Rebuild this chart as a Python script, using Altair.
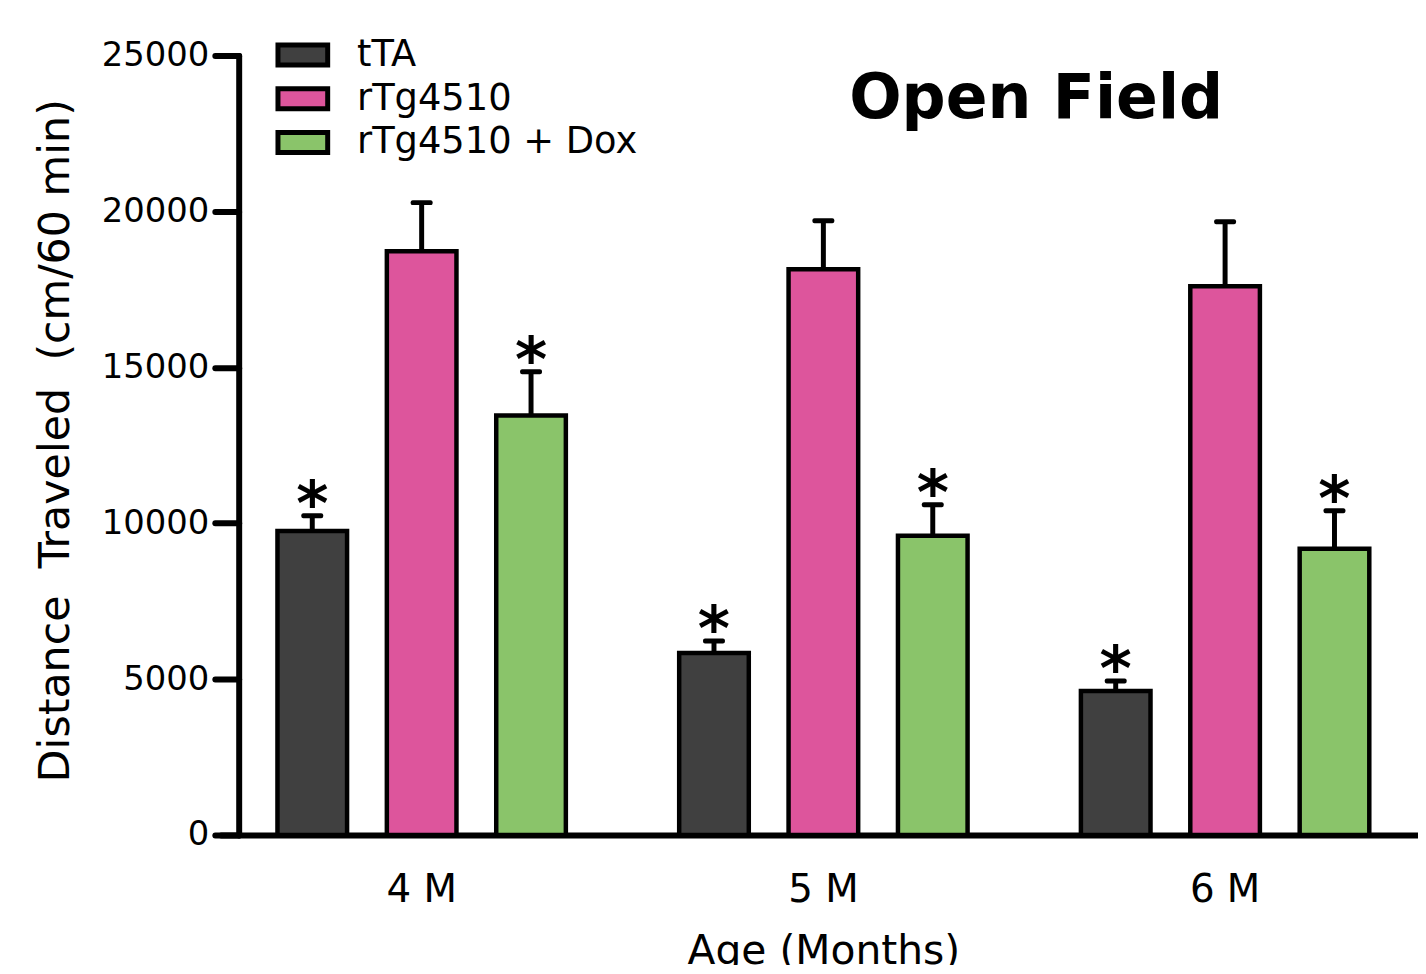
import altair as alt
import pandas as pd

ages = ["4 M", "5 M", "6 M"]
groups = ["tTA", "rTg4510", "rTg4510 + Dox"]
colors = ["#404040", "#DD559C", "#8AC46A"]

mean_tTA = [9750, 5840, 4620]
mean_rTg = [18720, 18140, 17600]
mean_dox = [13450, 9600, 9180]

err_tTA = [10240, 6220, 4940]
err_rTg = [20280, 19700, 19670]
err_dox = [14860, 10590, 10400]

sig_tTA = ["*", "*", "*"]
sig_rTg = ["", "", ""]
sig_dox = ["*", "*", "*"]

rows = []
for g, m, e, s in [("tTA", mean_tTA, err_tTA, sig_tTA),
                   ("rTg4510", mean_rTg, err_rTg, sig_rTg),
                   ("rTg4510 + Dox", mean_dox, err_dox, sig_dox)]:
    for a, mv, ev, sv in zip(ages, m, e, s):
        rows.append({"age": a, "group": g, "mean": mv, "err": ev, "sig": sv})
df = pd.DataFrame(rows)

FONT = "DejaVu Sans"
NB = "\u00a0"
y_title = f"Distance{NB}{NB}Traveled{NB}{NB}(cm/60{NB}min)"

x_enc = alt.X("age:N", sort=ages,
              scale=alt.Scale(domain=ages, range=[-18, 1194], paddingInner=0, paddingOuter=0),
              axis=alt.Axis(title="Age (Months)", labelAngle=0, ticks=False,
                            domainColor="black", domainWidth=6, domainCap="round",
                            labelFont=FONT, labelFontSize=39, labelColor="black",
                            labelPadding=36, titleFont=FONT, titleFontSize=41,
                            titleFontWeight="normal", titleColor="black", titlePadding=22))
xo_enc = alt.XOffset("group:N", sort=groups,
                     scale=alt.Scale(domain=groups, paddingInner=0.3636, paddingOuter=0.518))
y_scale = alt.Scale(domain=[0, 25000], nice=False)

base = alt.Chart(df)

bars = base.mark_bar(stroke="black", strokeWidth=4.5, strokeJoin="miter").encode(
    x=x_enc, xOffset=xo_enc,
    y=alt.Y("mean:Q", scale=y_scale,
            axis=alt.Axis(title=y_title, values=[0, 5000, 10000, 15000, 20000, 25000],
                          format="d", grid=False, domainColor="black", domainWidth=6, domainCap="round",
                          tickColor="black", tickWidth=6, tickSize=24, tickCap="round",
                          labelFont=FONT, labelFontSize=34, labelColor="black", labelPadding=6,
                          titleFont=FONT, titleFontSize=43, titleFontWeight="normal",
                          titleColor="black", titlePadding=24, titleY=387)),
    fill=alt.Fill("group:N", sort=groups,
                  scale=alt.Scale(domain=groups, range=colors),
                  legend=alt.Legend(title=None, orient="none", legendX=42, legendY=-23,
                                    symbolType="M-1.25,-0.5H1.25V0.5H-1.25Z", symbolSize=1600,
                                    symbolStrokeColor="black", symbolStrokeWidth=5,
                                    labelFont=FONT, labelFontSize=37, labelColor="black",
                                    labelLimit=0, labelOffset=32, rowPadding=1, padding=0)),
)

err_line = base.mark_rule(color="black", strokeWidth=5).encode(
    x=x_enc, xOffset=xo_enc, y=alt.Y("mean:Q", scale=y_scale), y2="err:Q")

err_cap = base.mark_tick(color="black", opacity=1, thickness=5, size=22, cornerRadius=2).encode(
    x=x_enc, xOffset=xo_enc, y=alt.Y("err:Q", scale=y_scale))

stars = base.mark_text(font=FONT, fontWeight="bold", fontSize=62, color="black",
                       baseline="alphabetic", align="center", dy=9).encode(
    x=x_enc, xOffset=xo_enc, y=alt.Y("err:Q", scale=y_scale), text="sig:N")

title = alt.Chart(pd.DataFrame({"t": ["Open Field"]})).mark_text(
    font=FONT, fontWeight="bold", fontSize=62, color="black", align="center",
    baseline="alphabetic").encode(text="t:N", x=alt.value(802), y=alt.value(63))

chart = alt.layer(err_line, bars, err_cap, stars, title).properties(
    width=1182, height=784,
    autosize=alt.AutoSizeParams(type="none"),
    padding={"left": 232, "top": 45, "right": 4, "bottom": 128},
).configure_view(stroke=None)

chart.save("out.html", embed_options={"renderer": "svg", "actions": False})
